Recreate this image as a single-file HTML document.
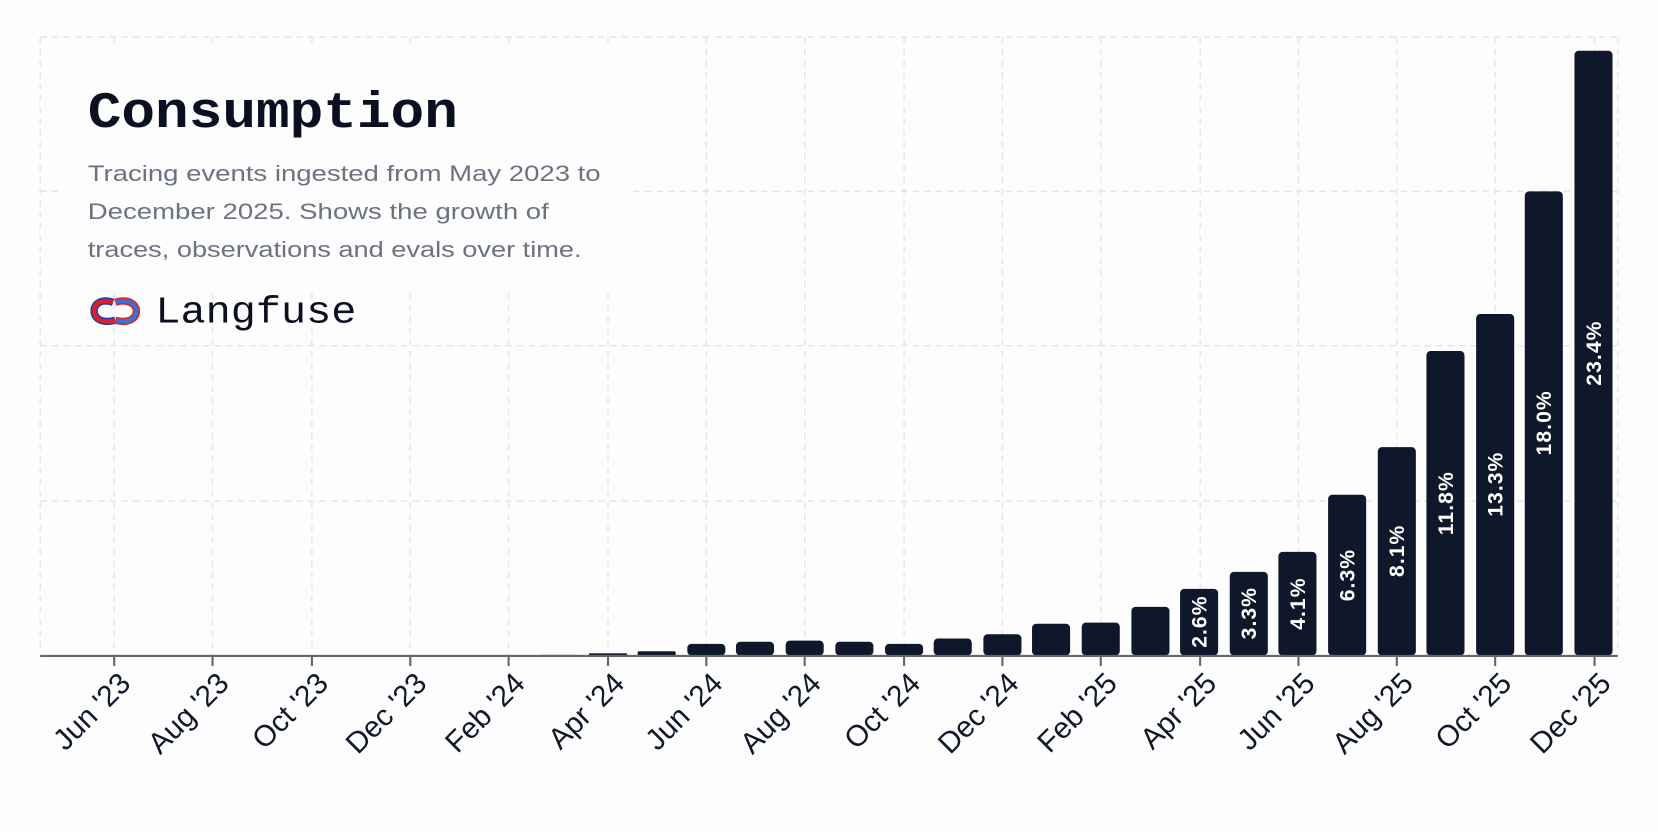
<!DOCTYPE html>
<html><head><meta charset="utf-8"><style>
html,body{margin:0;padding:0;background:#fdfdfd;}
svg{display:block;}
</style></head><body>
<svg width="1658" height="832" viewBox="0 0 1568 787" preserveAspectRatio="none" xmlns="http://www.w3.org/2000/svg">
<rect width="1568" height="787" fill="#fdfdfd"/>
<g stroke="#e1e4ee" stroke-width="1.3" stroke-dasharray="6,5" fill="none">
<line x1="38" y1="35" x2="1530" y2="35"/>
<line x1="38" y1="181" x2="1530" y2="181"/>
<line x1="38" y1="327" x2="1530" y2="327"/>
<line x1="38" y1="474" x2="1530" y2="474"/>
<line x1="38" y1="35" x2="38" y2="620"/>
<line x1="1530" y1="35" x2="1530" y2="620"/>
<line x1="108" y1="35" x2="108" y2="620"/><line x1="201" y1="35" x2="201" y2="620"/><line x1="295" y1="35" x2="295" y2="620"/><line x1="388" y1="35" x2="388" y2="620"/><line x1="481" y1="35" x2="481" y2="620"/><line x1="575" y1="35" x2="575" y2="620"/><line x1="668" y1="35" x2="668" y2="620"/><line x1="761" y1="35" x2="761" y2="620"/><line x1="855" y1="35" x2="855" y2="620"/><line x1="948" y1="35" x2="948" y2="620"/><line x1="1041" y1="35" x2="1041" y2="620"/><line x1="1135" y1="35" x2="1135" y2="620"/><line x1="1228" y1="35" x2="1228" y2="620"/><line x1="1321" y1="35" x2="1321" y2="620"/><line x1="1414" y1="35" x2="1414" y2="620"/><line x1="1508" y1="35" x2="1508" y2="620"/>
</g>
<rect x="60" y="42" width="535" height="233" fill="#fdfdfd"/>
<g fill="#0f172a">
<rect x="510" y="619" width="36" height="1" fill="#cbd5e1"/>
<rect x="557" y="618" width="36" height="2"/>
<rect x="603" y="616" width="36" height="4" rx="1.5"/>
<rect x="650" y="609" width="36" height="11" rx="4"/>
<rect x="696" y="607" width="36" height="13" rx="4"/>
<rect x="743" y="606" width="36" height="14" rx="4"/>
<rect x="790" y="607" width="36" height="13" rx="4"/>
<rect x="837" y="609" width="36" height="11" rx="4"/>
<rect x="883" y="604" width="36" height="16" rx="4"/>
<rect x="930" y="600" width="36" height="20" rx="4"/>
<rect x="976" y="590" width="36" height="30" rx="4"/>
<rect x="1023" y="589" width="36" height="31" rx="4"/>
<rect x="1070" y="574" width="36" height="46" rx="4"/>
<rect x="1116" y="557" width="36" height="63" rx="4"/>
<rect x="1163" y="541" width="36" height="79" rx="4"/>
<rect x="1209" y="522" width="36" height="98" rx="4"/>
<rect x="1256" y="468" width="36" height="152" rx="4"/>
<rect x="1303" y="423" width="36" height="197" rx="4"/>
<rect x="1349" y="332" width="36" height="288" rx="4"/>
<rect x="1396" y="297" width="36" height="323" rx="4"/>
<rect x="1442" y="181" width="36" height="439" rx="4"/>
<rect x="1489" y="48" width="36" height="572" rx="4"/>
</g>
<g fill="#fff" font-family="Liberation Sans, sans-serif" font-size="20" font-weight="bold" text-anchor="middle" letter-spacing="1">
<text transform="translate(1141,588) rotate(-90)">2.6%</text>
<text transform="translate(1188,580) rotate(-90)">3.3%</text>
<text transform="translate(1234,571) rotate(-90)">4.1%</text>
<text transform="translate(1281,544) rotate(-90)">6.3%</text>
<text transform="translate(1328,521) rotate(-90)">8.1%</text>
<text transform="translate(1374,476) rotate(-90)">11.8%</text>
<text transform="translate(1421,458) rotate(-90)">13.3%</text>
<text transform="translate(1467,400) rotate(-90)">18.0%</text>
<text transform="translate(1514,334) rotate(-90)">23.4%</text>
</g>
<line x1="38" y1="620.5" x2="1530" y2="620.5" stroke="#666" stroke-width="2"/>
<g stroke="#666" stroke-width="2">
<line x1="108" y1="620" x2="108" y2="630"/><line x1="201" y1="620" x2="201" y2="630"/><line x1="295" y1="620" x2="295" y2="630"/><line x1="388" y1="620" x2="388" y2="630"/><line x1="481" y1="620" x2="481" y2="630"/><line x1="575" y1="620" x2="575" y2="630"/><line x1="668" y1="620" x2="668" y2="630"/><line x1="761" y1="620" x2="761" y2="630"/><line x1="855" y1="620" x2="855" y2="630"/><line x1="948" y1="620" x2="948" y2="630"/><line x1="1041" y1="620" x2="1041" y2="630"/><line x1="1135" y1="620" x2="1135" y2="630"/><line x1="1228" y1="620" x2="1228" y2="630"/><line x1="1321" y1="620" x2="1321" y2="630"/><line x1="1414" y1="620" x2="1414" y2="630"/><line x1="1508" y1="620" x2="1508" y2="630"/>
</g>
<g fill="#0f172a" font-family="Liberation Sans, sans-serif" font-size="28" text-anchor="end">
<text transform="translate(125,648) rotate(-45)">Jun '23</text>
<text transform="translate(218,648) rotate(-45)">Aug '23</text>
<text transform="translate(312,648) rotate(-45)">Oct '23</text>
<text transform="translate(405,648) rotate(-45)">Dec '23</text>
<text transform="translate(498,648) rotate(-45)">Feb '24</text>
<text transform="translate(592,648) rotate(-45)">Apr '24</text>
<text transform="translate(685,648) rotate(-45)">Jun '24</text>
<text transform="translate(778,648) rotate(-45)">Aug '24</text>
<text transform="translate(872,648) rotate(-45)">Oct '24</text>
<text transform="translate(965,648) rotate(-45)">Dec '24</text>
<text transform="translate(1058,648) rotate(-45)">Feb '25</text>
<text transform="translate(1152,648) rotate(-45)">Apr '25</text>
<text transform="translate(1245,648) rotate(-45)">Jun '25</text>
<text transform="translate(1338,648) rotate(-45)">Aug '25</text>
<text transform="translate(1431,648) rotate(-45)">Oct '25</text>
<text transform="translate(1525,648) rotate(-45)">Dec '25</text>
</g>
<text x="83" y="120" font-family="Liberation Mono, monospace" font-size="48" font-weight="bold" fill="#0b1020" textLength="350" lengthAdjust="spacingAndGlyphs">Consumption</text>
<g font-family="Liberation Sans, sans-serif" font-size="21" fill="#6b7280">
<text x="83" y="171" textLength="485" lengthAdjust="spacingAndGlyphs">Tracing events ingested from May 2023 to</text>
<text x="83" y="207" textLength="436" lengthAdjust="spacingAndGlyphs">December 2025. Shows the growth of</text>
<text x="83" y="243" textLength="467" lengthAdjust="spacingAndGlyphs">traces, observations and evals over time.</text>
</g>
<g transform="translate(87,280)">
<path d="M20,6 C8,2 2,8 2,14 C2,22 10,26 22,23" fill="none" stroke="#1e40af" stroke-width="7"/>
<path d="M22,6 C34,2 42,8 42,14 C42,22 34,26 22,23" fill="none" stroke="#dc2626" stroke-width="7"/>
<path d="M20,6 C8,2 2,8 2,14 C2,22 10,26 22,23" fill="none" stroke="#e11d2a" stroke-width="4"/>
<path d="M22,6 C34,2 42,8 42,14 C42,22 34,26 22,23" fill="none" stroke="#3b6fd0" stroke-width="4"/>
<line x1="10" y1="14" x2="34" y2="14" stroke="#fff" stroke-width="2"/>
</g>
<text x="147" y="305" font-family="Liberation Mono, monospace" font-size="36" fill="#0b1020" textLength="190" lengthAdjust="spacingAndGlyphs">Langfuse</text>
</svg>
</body></html>
